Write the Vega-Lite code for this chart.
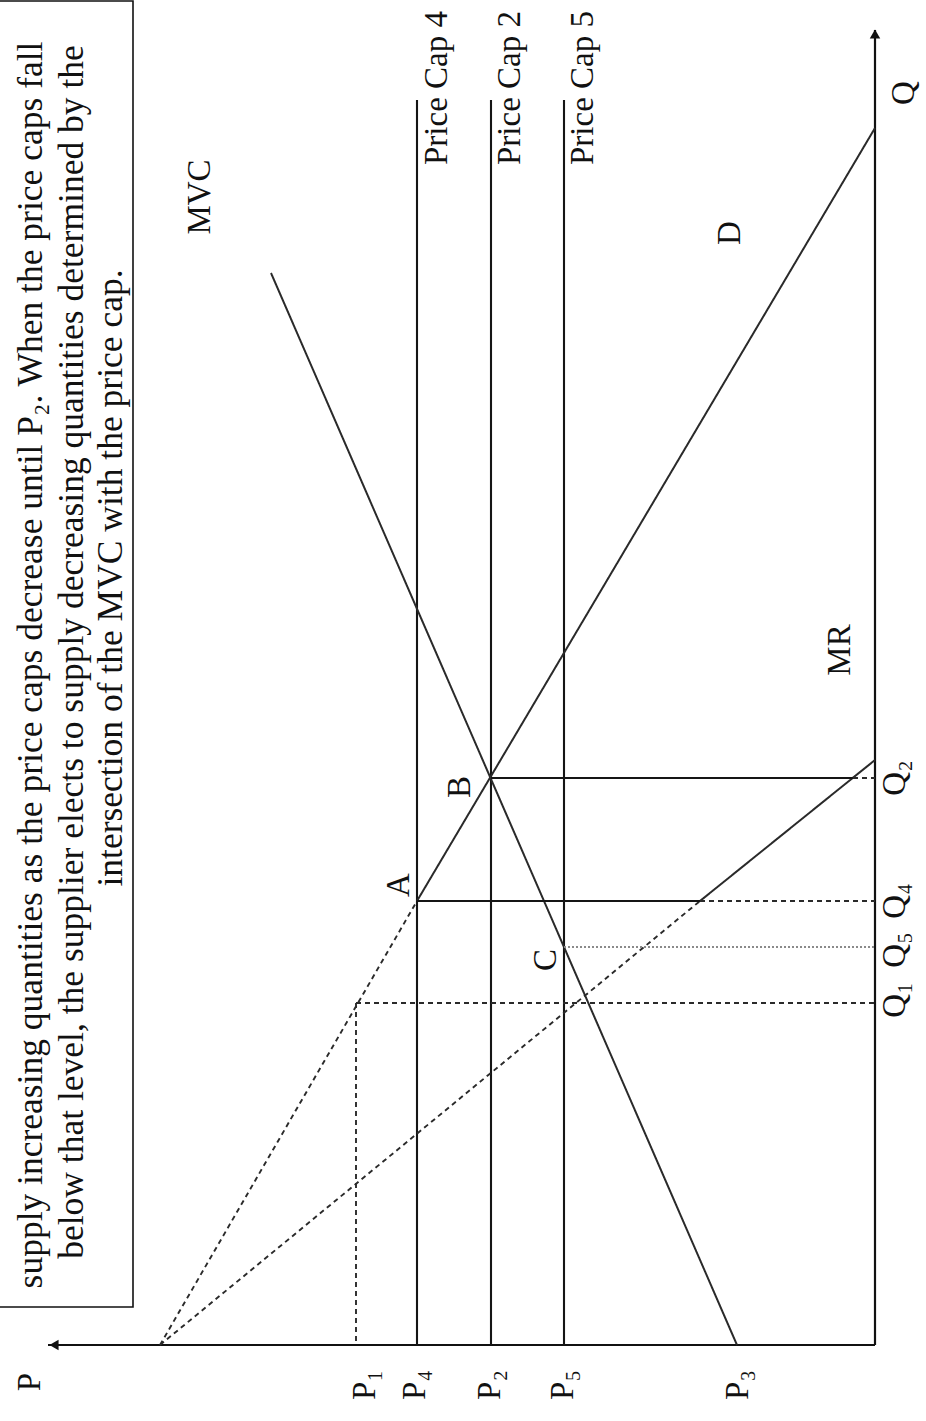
{
  "$schema": "https://vega.github.io/schema/vega-lite/v6.json",
  "width": 875,
  "height": 1345,
  "autosize": {"type": "none"},
  "padding": {"left": 0, "top": 0, "right": 51, "bottom": 76},
  "background": "white",
  "config": {"view": {"stroke": null}},
  "datasets": {
    "segments": [
      {"p": 827, "q": 0, "p2": 0, "q2": 0, "kind": "axis"},
      {"p": 0, "q": 0, "p2": 0, "q2": 1315, "kind": "axis"},
      {"p": 458, "q": 0, "p2": 458, "q2": 1245, "kind": "solid"},
      {"p": 384, "q": 0, "p2": 384, "q2": 1245, "kind": "solid"},
      {"p": 311, "q": 0, "p2": 311, "q2": 1245, "kind": "solid"},
      {"p": 604, "q": 1072, "p2": 138, "q2": 0, "kind": "curve"},
      {"p": 715, "q": 0, "p2": 458, "q2": 444, "kind": "dashed"},
      {"p": 458, "q": 444, "p2": 0, "q2": 1217, "kind": "curve"},
      {"p": 715, "q": 0, "p2": 175, "q2": 444, "kind": "dashed"},
      {"p": 175, "q": 444, "p2": 0, "q2": 585, "kind": "curve"},
      {"p": 458, "q": 444, "p2": 175, "q2": 444, "kind": "solid"},
      {"p": 175, "q": 444, "p2": 0, "q2": 444, "kind": "dashed"},
      {"p": 384, "q": 567, "p2": 22, "q2": 567, "kind": "solid"},
      {"p": 22, "q": 567, "p2": 0, "q2": 567, "kind": "dashed"},
      {"p": 311, "q": 398, "p2": 0, "q2": 398, "kind": "dotted"},
      {"p": 519, "q": 342, "p2": 0, "q2": 342, "kind": "dashed"},
      {"p": 519, "q": 342, "p2": 519, "q2": 0, "kind": "dashed"}
    ],
    "arrows": [
      {"p": 821, "q": 0, "dir": "left"},
      {"p": 0, "q": 1311, "dir": "up"}
    ],
    "labels": [
      {"p": 675, "q": 1148, "label": "MVC"},
      {"p": 145, "q": 1112, "label": "D"},
      {"p": 35, "q": 695, "label": "MR"},
      {"p": 476, "q": 460, "label": "A"},
      {"p": 415, "q": 558, "label": "B"},
      {"p": 329, "q": 385, "label": "C"},
      {"p": 438, "q": 1257, "label": "Price Cap 4"},
      {"p": 365, "q": 1257, "label": "Price Cap 2"},
      {"p": 292, "q": 1257, "label": "Price Cap 5"},
      {"p": -29, "q": 1252, "label": "Q"},
      {"p": -20, "q": 567, "label": "Q₂"},
      {"p": -20, "q": 444, "label": "Q₄"},
      {"p": -20, "q": 395, "label": "Q₅"},
      {"p": -20, "q": 345, "label": "Q₁"},
      {"p": 845, "q": -37, "label": "P"},
      {"p": 510, "q": -40, "label": "P₁"},
      {"p": 460, "q": -40, "label": "P₄"},
      {"p": 385, "q": -40, "label": "P₂"},
      {"p": 312, "q": -40, "label": "P₅"},
      {"p": 137, "q": -40, "label": "P₃"}
    ],
    "note": [
      {"p": 833, "q": 680, "line": "supply increasing quantities as the price caps decrease until P₂. When the price caps fall"},
      {"p": 792, "q": 693, "line": "below that level, the supplier elects to supply decreasing quantities determined by the"},
      {"p": 753, "q": 767, "line": "intersection of the MVC with the price cap."}
    ],
    "frame": [
      {"p": 880, "q": 1344, "p2": 742, "q2": 38}
    ]
  },
  "encoding": {
    "x": {"field": "p", "type": "quantitative", "scale": {"domain": [0, 875], "reverse": true, "nice": false, "zero": false}, "axis": null},
    "y": {"field": "q", "type": "quantitative", "scale": {"domain": [0, 1345], "nice": false, "zero": false}, "axis": null}
  },
  "layer": [
    {
      "data": {"name": "frame"},
      "mark": {"type": "rect", "fill": "white", "stroke": "#111", "strokeWidth": 1.6},
      "encoding": {
        "x2": {"field": "p2"},
        "y2": {"field": "q2"}
      }
    },
    {
      "data": {"name": "segments"},
      "mark": {"type": "rule"},
      "encoding": {
        "x2": {"field": "p2"},
        "y2": {"field": "q2"},
        "color": {"field": "kind", "type": "nominal", "legend": null,
          "scale": {"domain": ["axis", "solid", "curve", "dashed", "dotted"], "range": ["#111111", "#151515", "#2a2a2a", "#2a2a2a", "#8a8a8a"]}},
        "strokeWidth": {"field": "kind", "type": "nominal", "legend": null,
          "scale": {"domain": ["axis", "solid", "curve", "dashed", "dotted"], "range": [2.2, 1.8, 1.5, 1.7, 1]}},
        "strokeDash": {"field": "kind", "type": "nominal", "legend": null,
          "scale": {"domain": ["axis", "solid", "curve", "dashed", "dotted"], "range": [[1, 0], [1, 0], [1, 0], [5, 4], [2, 2]]}}
      }
    },
    {
      "data": {"name": "arrows"},
      "mark": {"type": "point", "filled": true, "color": "#111", "opacity": 1, "size": 110},
      "encoding": {
        "shape": {"field": "dir", "type": "nominal", "legend": null,
          "scale": {"domain": ["left", "up"], "range": ["triangle-left", "triangle-up"]}}
      }
    },
    {
      "data": {"name": "labels"},
      "mark": {"type": "text", "font": "Liberation Serif", "fontSize": 33, "angle": 270, "align": "center", "baseline": "middle", "color": "#111"},
      "encoding": {"text": {"field": "label"}}
    },
    {
      "data": {"name": "note"},
      "mark": {"type": "text", "font": "Liberation Serif", "fontSize": 35.5, "angle": 270, "align": "center", "baseline": "alphabetic", "color": "#111"},
      "encoding": {"text": {"field": "line"}}
    }
  ]
}
